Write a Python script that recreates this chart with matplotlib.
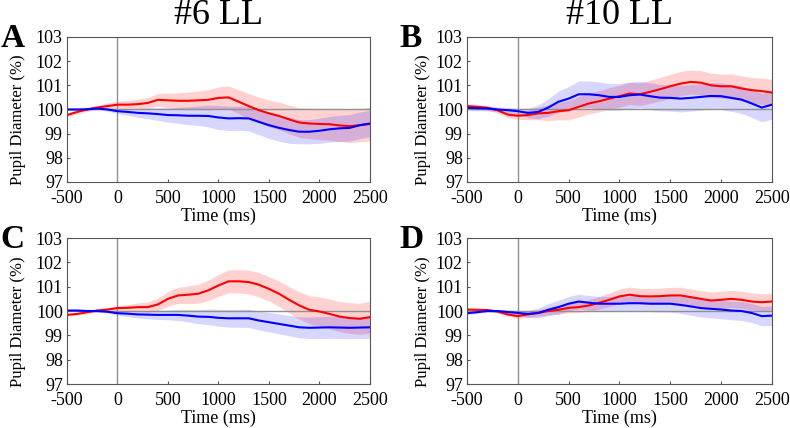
import numpy as np
import matplotlib
matplotlib.use("Agg")
from matplotlib import pyplot as plt

plt.rcParams['font.family'] = ['Liberation Serif', 'DejaVu Serif']
plt.rcParams['axes.unicode_minus'] = False

# time axis (ms)
t = np.arange(-500, 2501, 100)

# panel A (#6 LL, top)
a_red = [99.77, 99.9, 100.0, 100.08, 100.14, 100.2, 100.2, 100.22, 100.27, 100.4, 100.38,
         100.36, 100.36, 100.38, 100.4, 100.48, 100.5, 100.32, 100.14, 99.97, 99.84,
         99.73, 99.59, 99.46, 99.42, 99.4, 99.39, 99.34, 99.31, 99.35, 99.4]
a_red_err = [0.08, 0.08, 0.08, 0.1, 0.12, 0.15, 0.18, 0.2, 0.22, 0.26, 0.3,
             0.33, 0.36, 0.38, 0.42, 0.45, 0.47, 0.5, 0.52, 0.54, 0.55,
             0.57, 0.59, 0.61, 0.63, 0.65, 0.66, 0.67, 0.68, 0.69, 0.7]
a_blue = [100.0, 100.0, 100.01, 100.04, 100.0, 99.93, 99.9, 99.86, 99.84, 99.81, 99.77,
          99.76, 99.74, 99.74, 99.73, 99.67, 99.63, 99.64, 99.63, 99.49, 99.35,
          99.24, 99.15, 99.08, 99.08, 99.12, 99.18, 99.22, 99.24, 99.35, 99.42]
a_blue_err = [0.03, 0.03, 0.04, 0.05, 0.07, 0.1, 0.14, 0.18, 0.22, 0.26, 0.3,
              0.33, 0.37, 0.4, 0.45, 0.5, 0.5, 0.5, 0.52, 0.53, 0.55,
              0.55, 0.55, 0.5, 0.5, 0.52, 0.53, 0.54, 0.55, 0.55, 0.55]

# panel B (#10 LL, top)
b_red = [100.14, 100.11, 100.07, 99.97, 99.79, 99.74, 99.77, 99.84, 99.86, 99.93, 99.97,
         100.11, 100.25, 100.34, 100.45, 100.55, 100.66, 100.63, 100.73, 100.84, 100.96,
         101.07, 101.14, 101.11, 101.0, 100.96, 100.96, 100.87, 100.8, 100.76, 100.7]
b_red_err = [0.1, 0.1, 0.1, 0.11, 0.13, 0.15, 0.2, 0.26, 0.32, 0.36, 0.4,
             0.42, 0.43, 0.44, 0.45, 0.45, 0.46, 0.47, 0.48, 0.49, 0.5,
             0.5, 0.5, 0.5, 0.5, 0.5, 0.51, 0.52, 0.53, 0.54, 0.55]
b_blue = [100.07, 100.05, 100.04, 100.0, 99.97, 99.93, 99.86, 99.9, 100.08, 100.32, 100.45,
          100.63, 100.63, 100.59, 100.52, 100.52, 100.59, 100.62, 100.55, 100.49, 100.48,
          100.45, 100.48, 100.52, 100.56, 100.55, 100.48, 100.41, 100.25, 100.08, 100.2]
b_blue_err = [0.1, 0.1, 0.1, 0.1, 0.11, 0.12, 0.2, 0.28, 0.36, 0.44, 0.5,
              0.55, 0.55, 0.55, 0.55, 0.55, 0.55, 0.55, 0.55, 0.55, 0.55,
              0.55, 0.55, 0.55, 0.55, 0.55, 0.56, 0.57, 0.58, 0.59, 0.6]

# panel C (#6 LL, bottom)
c_red = [99.84, 99.88, 99.95, 100.02, 100.06, 100.12, 100.13, 100.16, 100.16, 100.27, 100.5,
         100.64, 100.67, 100.71, 100.85, 101.05, 101.22, 101.22, 101.19, 101.08, 100.91,
         100.71, 100.46, 100.23, 100.05, 99.98, 99.88, 99.77, 99.71, 99.68, 99.75]
c_red_err = [0.05, 0.05, 0.05, 0.06, 0.08, 0.1, 0.13, 0.17, 0.21, 0.25, 0.3,
             0.33, 0.36, 0.39, 0.42, 0.45, 0.47, 0.48, 0.49, 0.5, 0.5,
             0.52, 0.54, 0.56, 0.58, 0.6, 0.61, 0.62, 0.63, 0.64, 0.65]
c_blue = [100.02, 100.02, 100.0, 100.0, 99.97, 99.91, 99.89, 99.86, 99.85, 99.84, 99.84,
          99.84, 99.81, 99.77, 99.76, 99.72, 99.7, 99.7, 99.7, 99.61, 99.54,
          99.47, 99.4, 99.33, 99.31, 99.32, 99.33, 99.32, 99.31, 99.32, 99.33]
c_blue_err = [0.03, 0.03, 0.03, 0.04, 0.06, 0.08, 0.12, 0.15, 0.17, 0.19, 0.2,
              0.23, 0.26, 0.29, 0.32, 0.35, 0.36, 0.37, 0.38, 0.39, 0.4,
              0.41, 0.42, 0.43, 0.44, 0.45, 0.45, 0.45, 0.45, 0.45, 0.45]

# panel D (#10 LL, bottom)
d_red = [100.06, 100.05, 100.04, 99.98, 99.86, 99.79, 99.86, 99.92, 100.0, 100.05, 100.13,
         100.16, 100.23, 100.34, 100.46, 100.6, 100.67, 100.61, 100.6, 100.61, 100.64,
         100.64, 100.57, 100.5, 100.43, 100.46, 100.5, 100.46, 100.39, 100.36, 100.39]
d_red_err = [0.05, 0.05, 0.05, 0.06, 0.08, 0.1, 0.12, 0.14, 0.16, 0.18, 0.2,
             0.22, 0.24, 0.26, 0.28, 0.3, 0.31, 0.32, 0.32, 0.33, 0.33,
             0.34, 0.34, 0.34, 0.35, 0.35, 0.35, 0.35, 0.35, 0.35, 0.35]
d_blue = [99.91, 99.95, 100.0, 100.0, 99.96, 99.92, 99.88, 99.92, 100.05, 100.16, 100.3,
          100.39, 100.34, 100.3, 100.3, 100.3, 100.32, 100.32, 100.3, 100.3, 100.3,
          100.25, 100.19, 100.12, 100.09, 100.06, 100.02, 100.0, 99.92, 99.79, 99.81]
d_blue_err = [0.05, 0.05, 0.05, 0.06, 0.08, 0.1, 0.15, 0.2, 0.25, 0.28, 0.3,
              0.3, 0.3, 0.3, 0.3, 0.3, 0.31, 0.32, 0.33, 0.34, 0.35,
              0.35, 0.36, 0.37, 0.37, 0.38, 0.38, 0.39, 0.39, 0.4, 0.4]

panels = [
    ("A", "#6 LL", [0.0848, 0.5748, 0.3835, 0.3388], -0.135, a_red, a_red_err, a_blue, a_blue_err),
    ("B", "#10 LL", [0.5911, 0.5748, 0.3861, 0.3388], -0.118, b_red, b_red_err, b_blue, b_blue_err),
    ("C", None, [0.0848, 0.1028, 0.3835, 0.3411], -0.135, c_red, c_red_err, c_blue, c_blue_err),
    ("D", None, [0.5911, 0.1028, 0.3861, 0.3411], -0.118, d_red, d_red_err, d_blue, d_blue_err),
]

fig = plt.figure(figsize=(7.9, 4.28), dpi=100)

for letter, title, pos, ylab_x, red, red_err, blue, blue_err in panels:
    ax = fig.add_axes(pos)
    red = np.array(red); red_err = np.array(red_err)
    blue = np.array(blue); blue_err = np.array(blue_err)
    ax.fill_between(t, red - red_err, red + red_err, color='#ff0000', alpha=0.18, lw=0)
    ax.fill_between(t, blue - blue_err, blue + blue_err, color='#0000ff', alpha=0.16, lw=0)
    ax.axhline(100, color='#909090', lw=1.0)
    ax.axvline(0, color='#909090', lw=1.0)
    ax.plot(t, red, color='#ff0000', lw=1.5)
    ax.plot(t, blue, color='#0000ff', lw=1.5)
    ax.set_xlim(-500, 2500)
    ax.set_ylim(97, 103)
    ax.set_xticks(np.arange(-500, 2501, 500))
    ax.set_yticks(np.arange(97, 104, 1))
    ax.tick_params(direction='in', length=2, labelsize=13, color='#555555')
    ax.tick_params(axis='x', pad=6)
    ax.tick_params(axis='y', pad=3)
    for s in ax.spines.values():
        s.set_color('#555555')
        s.set_linewidth(0.8)
    ax.set_xlabel("Time (ms)", fontsize=13, labelpad=0)
    ax.set_ylabel("Pupil Diameter (%)", fontsize=12)
    ax.yaxis.set_label_coords(ylab_x, 0.43)
    ax.text(-0.22, 0.99, letter, transform=ax.transAxes, fontsize=24,
            fontweight='bold', ha='left', va='center')
    if title:
        ax.set_title(title, fontsize=26, pad=9)

fig.savefig("out.png", dpi=100)
